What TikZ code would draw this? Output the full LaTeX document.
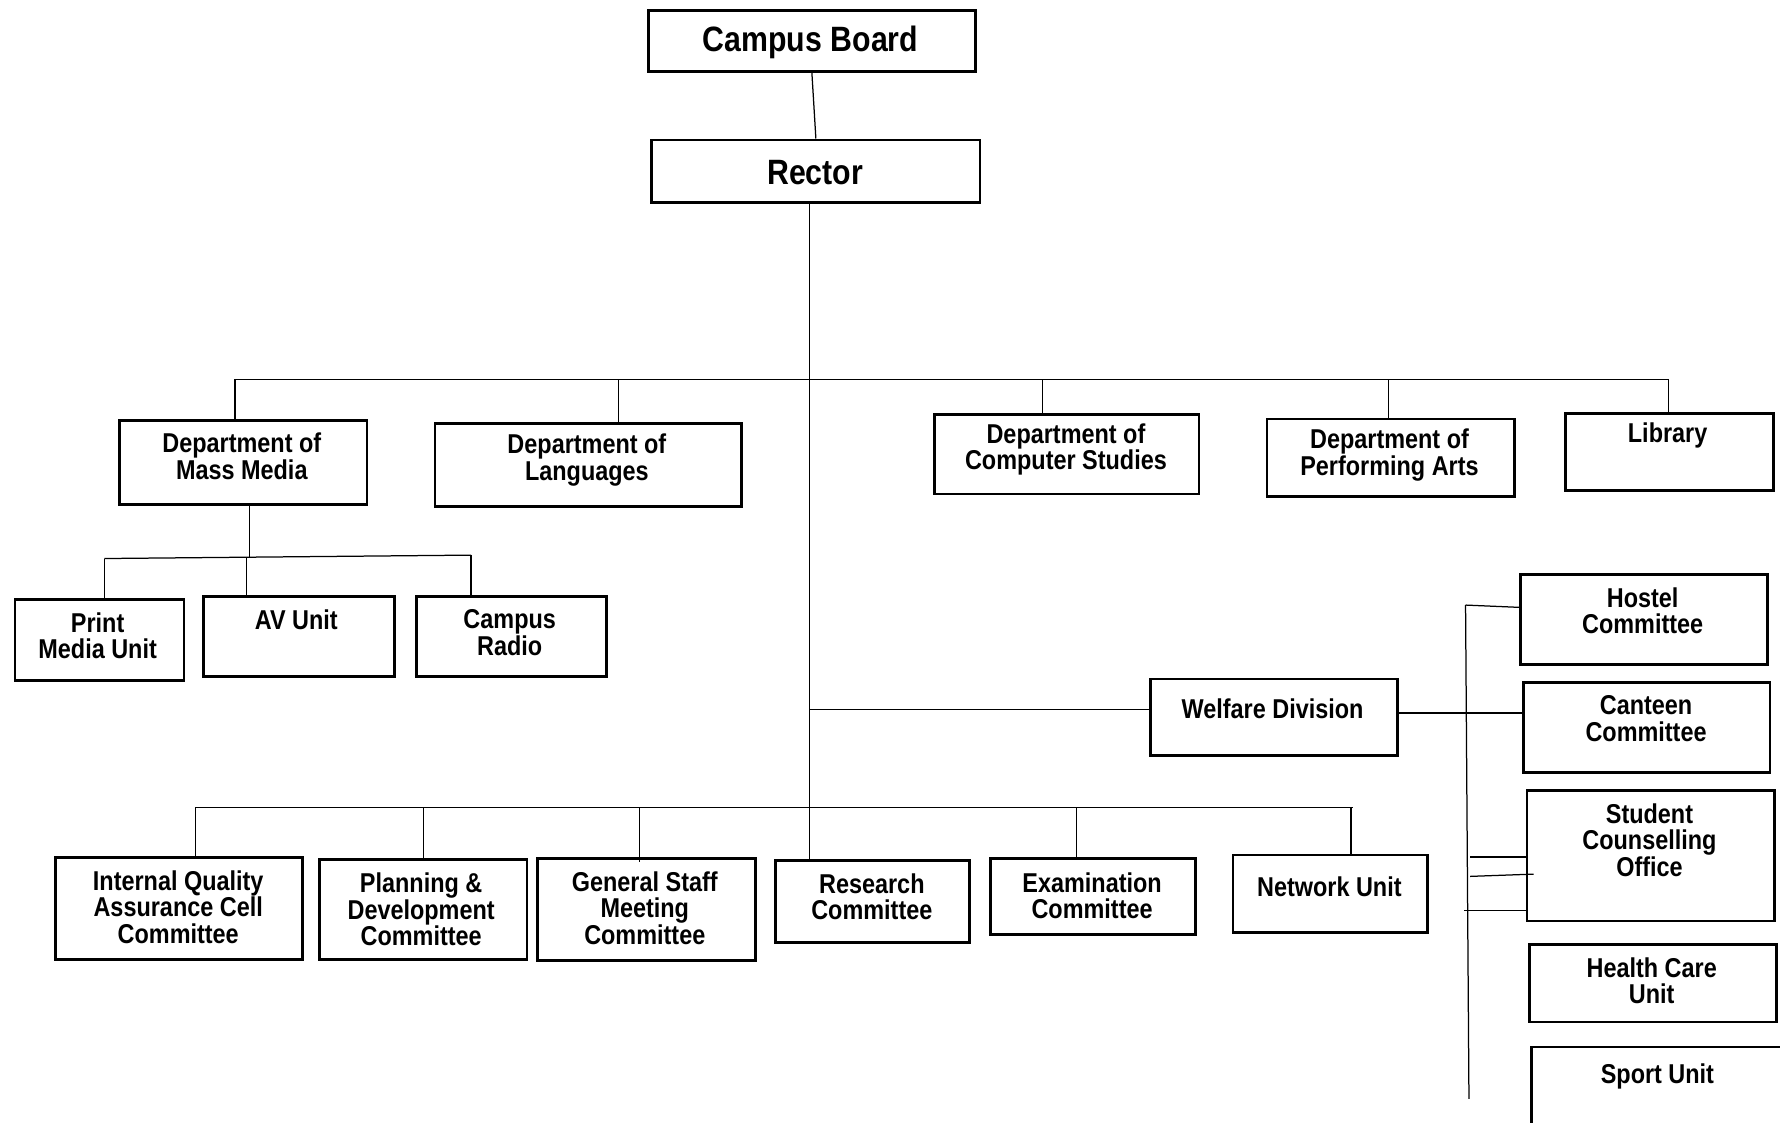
\documentclass[tikz,border=0pt]{standalone}
\usepackage{fontspec}
\setmainfont{Liberation Sans}[FakeStretch=0.86]
\begin{document}
\begin{tikzpicture}[x=1pt,y=-1pt,
  box/.style={draw=black, line width=2.4pt, rectangle, inner sep=0pt, anchor=north west},
  conn/.style={draw=black, line width=1.1pt},
  lbl/.style={font=\fontsize{24}{23.5}\selectfont\bfseries, align=center, inner sep=0pt},
  big/.style={font=\fontsize{31}{33}\selectfont\bfseries, inner sep=0pt}]
\useasboundingbox (0,0) rectangle (1568,989);
\fill[white] (0,0) rectangle (1568,989);
\begin{scope}
\clip (0,0) rectangle (1568,989);
% ---------- boxes ----------
\node[box, minimum width=288pt, minimum height=54pt] (cb) at (570,8) {};
\node[box, minimum width=289pt, minimum height=55pt] (rec) at (573,122) {};
\node[box, minimum width=218pt, minimum height=74pt] (mm) at (104,369) {};
\node[box, minimum width=270pt, minimum height=73pt] (lang) at (382,372) {};
\node[box, minimum width=233pt, minimum height=70pt] (cs) at (822,364) {};
\node[box, minimum width=218pt, minimum height=68pt] (pa) at (1115,368) {};
\node[box, minimum width=183pt, minimum height=68pt] (lib) at (1378,363) {};
\node[box, minimum width=149pt, minimum height=71pt] (pm) at (12,527) {};
\node[box, minimum width=168pt, minimum height=71pt] (av) at (178,524) {};
\node[box, minimum width=167pt, minimum height=71pt] (cr) at (366,524) {};
\node[box, minimum width=218pt, minimum height=67pt] (wd) at (1012,597) {};
\node[box, minimum width=218pt, minimum height=79pt] (hc) at (1338,505) {};
\node[box, minimum width=217pt, minimum height=79pt] (cc) at (1341,600) {};
\node[box, minimum width=218pt, minimum height=115pt] (sco) at (1344,695) {};
\node[box, minimum width=218pt, minimum height=68pt] (hcu) at (1346,831) {};
\node[box, minimum width=230pt, minimum height=100pt] (su) at (1348,921) {};
\node[box, minimum width=217pt, minimum height=90pt] (iq) at (48,754) {};
\node[box, minimum width=183pt, minimum height=88pt] (pd) at (280,756) {};
\node[box, minimum width=192pt, minimum height=90pt] (gs) at (472,755) {};
\node[box, minimum width=171pt, minimum height=72pt] (rc) at (682,757) {};
\node[box, minimum width=181pt, minimum height=67pt] (ec) at (871,755) {};
\node[box, minimum width=171pt, minimum height=68pt] (nu) at (1085,752) {};
% ---------- labels ----------
\node[big] (cbT) at (714,37) {Campus Board};
\node[big] (recT) at (718,152) {Rector};
\node[lbl] (mmT) at (213,402) {Department of\\Mass Media};
\node[lbl] (langT) at (517,405) {Department of\\Languages};
\node[lbl] (csT) at (939,396) {Department of\\Computer Studies};
\node[lbl] (paT) at (1224,401) {Department of\\Performing Arts};
\node[lbl] (libT) at (1469,384) {Library};
\node[lbl] (pmT) at (86,560) {Print\\Media Unit};
\node[lbl] (avT) at (261,546) {AV Unit};
\node[lbl] (crT) at (449,557) {Campus\\Radio};
\node[lbl] (wdT) at (1121,624) {Welfare Division};
\node[lbl] (hcT) at (1447,538) {Hostel\\Committee};
\node[lbl] (ccT) at (1450,633) {Canteen\\Committee};
\node[lbl] (scoT) at (1453,740) {Student\\Counselling\\Office};
\node[lbl] (hcuT) at (1455,864) {Health Care\\Unit};
\node[lbl] (suT) at (1460,948) {Sport Unit};
\node[lbl] (iqT) at (157,799) {Internal Quality\\Assurance Cell\\Committee};
\node[lbl] (pdT) at (371,801) {Planning \&\\Development\\Committee};
\node[lbl] (gsT) at (568,800) {General Staff\\Meeting\\Committee};
\node[lbl] (rcT) at (768,790) {Research\\Committee};
\node[lbl] (ecT) at (962,789) {Examination\\Committee};
\node[lbl] (nuT) at (1171,781) {Network Unit};
% ---------- connectors ----------
\draw[conn] (cb.south) -- (rec.north);
\coordinate (sp) at (713,0);
\draw[conn] (sp |- rec.south) -- (sp |- rc.north);
% top bus
\coordinate (t1) at (207,334);
\coordinate (t2) at (545,334);
\coordinate (t3) at (918,334);
\coordinate (t4) at (1223,334);
\coordinate (t5) at (1470,334);
\draw[conn] (t1) -- (t5);
\draw[conn] (t1) -- (t1 |- mm.north);
\draw[conn] (t2) -- (t2 |- lang.north);
\draw[conn] (t3) -- (t3 |- cs.north);
\draw[conn] (t4) -- (t4 |- pa.north);
\draw[conn] (t5) -- (t5 |- lib.north);
% mass media sub-tree
\coordinate (m0) at (220,0);
\coordinate (s1) at (92,492);
\coordinate (s2) at (217,491);
\coordinate (s3) at (415,489);
\draw[conn] (m0 |- mm.south) -- (m0 |- s2);
\draw[conn] (s1) -- (s3);
\draw[conn] (s1) -- (s1 |- pm.north);
\draw[conn] (s2) -- (s2 |- av.north);
\draw[conn] (s3) -- (s3 |- cr.north);
% welfare
\coordinate (w1) at (713,625);
\draw[conn] (w1) -- (w1 -| wd.west);
\coordinate (w2) at (1230,628);
\draw[conn] (w2 -| wd.east) -- (w2 -| cc.west);
\coordinate (vb1) at (1291,533);
\coordinate (vb2) at (1294,968);
\draw[conn] (vb1) -- (vb2);
\coordinate (hy) at (0,535);
\draw[conn] (vb1) -- (hc.west |- hy);
\coordinate (k1) at (1295,755);
\draw[conn] (k1) -- (k1 -| sco.west);
\coordinate (k2) at (1295,772);
\coordinate (k2e) at (1351,770);
\draw[conn] (k2) -- (k2e);
\coordinate (k3) at (1290,802);
\draw[conn] (k3) -- (k3 -| sco.west);
% lower bus
\coordinate (b1) at (173,711);
\coordinate (b6) at (1192,711);
\draw[conn] (b1) -- (b6);
\coordinate (d1) at (172,711);
\coordinate (d2) at (373,711);
\coordinate (d3) at (563,711);
\coordinate (d3e) at (563,759);
\coordinate (d5) at (948,711);
\coordinate (d6) at (1190,711);
\draw[conn] (d1) -- (d1 |- iq.north);
\draw[conn] (d2) -- (d2 |- pd.north);
\draw[conn] (d3) -- (d3e);
\draw[conn] (d5) -- (d5 |- ec.north);
\draw[conn] (d6) -- (d6 |- nu.north);
\end{scope}
\end{tikzpicture}
\end{document}
